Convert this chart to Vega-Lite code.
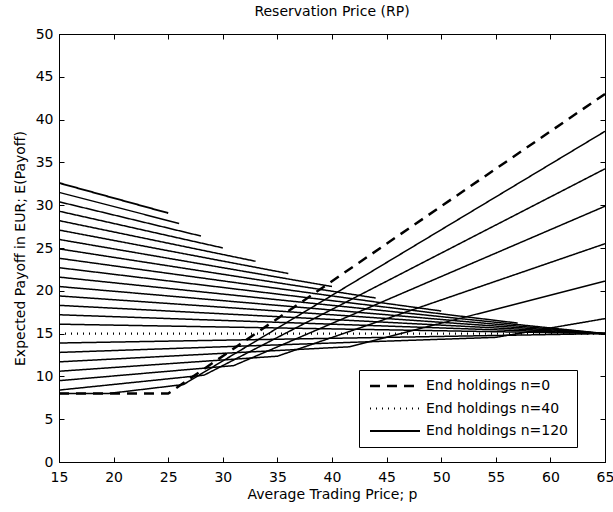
{
  "$schema": "https://vega.github.io/schema/vega-lite/v6.json",
  "width": 546,
  "height": 428,
  "autosize": {"type": "none"},
  "padding": {"left": 59, "top": 34, "right": 8, "bottom": 50},
  "background": "white",
  "config": {
    "view": {"stroke": "black", "strokeWidth": 1},
    "font": "DejaVu Sans",
    "axis": {
      "grid": false,
      "domainColor": "black",
      "tickColor": "black",
      "labelColor": "black",
      "titleColor": "black",
      "labelFont": "DejaVu Sans",
      "titleFont": "DejaVu Sans",
      "labelFontSize": 14,
      "titleFontSize": 14,
      "titleFontWeight": "normal",
      "tickSize": -5,
      "tickWidth": 1
    }
  },
  "title": {
    "text": "Reservation Price (RP)",
    "fontSize": 14,
    "fontWeight": "normal",
    "font": "DejaVu Sans",
    "color": "black",
    "offset": 8
  },
  "data": {
    "values": [
      {"n": 115, "p": 15, "E": 31.5, "s": "other"},
      {"n": 115, "p": 26, "E": 27.87, "s": "other"},
      {"n": 110, "p": 15, "E": 30.4, "s": "other"},
      {"n": 110, "p": 28, "E": 26.4, "s": "other"},
      {"n": 105, "p": 15, "E": 29.3, "s": "other"},
      {"n": 105, "p": 30, "E": 25.01, "s": "other"},
      {"n": 100, "p": 15, "E": 28.2, "s": "other"},
      {"n": 100, "p": 33, "E": 23.45, "s": "other"},
      {"n": 95, "p": 15, "E": 27.1, "s": "other"},
      {"n": 95, "p": 36, "E": 22.02, "s": "other"},
      {"n": 90, "p": 15, "E": 26.0, "s": "other"},
      {"n": 90, "p": 40, "E": 20.5, "s": "other"},
      {"n": 85, "p": 15, "E": 24.9, "s": "other"},
      {"n": 85, "p": 44, "E": 19.16, "s": "other"},
      {"n": 80, "p": 15, "E": 23.8, "s": "other"},
      {"n": 80, "p": 50, "E": 17.64, "s": "other"},
      {"n": 75, "p": 15, "E": 22.7, "s": "other"},
      {"n": 75, "p": 57, "E": 16.23, "s": "other"},
      {"n": 70, "p": 15, "E": 21.6, "s": "other"},
      {"n": 70, "p": 65, "E": 15, "s": "other"},
      {"n": 65, "p": 15, "E": 20.5, "s": "other"},
      {"n": 65, "p": 65, "E": 15, "s": "other"},
      {"n": 60, "p": 15, "E": 19.4, "s": "other"},
      {"n": 60, "p": 65, "E": 15, "s": "other"},
      {"n": 55, "p": 15, "E": 18.3, "s": "other"},
      {"n": 55, "p": 65, "E": 15, "s": "other"},
      {"n": 50, "p": 15, "E": 17.2, "s": "other"},
      {"n": 50, "p": 65, "E": 15, "s": "other"},
      {"n": 45, "p": 15, "E": 16.1, "s": "other"},
      {"n": 45, "p": 65, "E": 15, "s": "other"},
      {"n": 35, "p": 15, "E": 13.9, "s": "other"},
      {"n": 35, "p": 65, "E": 15, "s": "other"},
      {"n": 30, "p": 15, "E": 12.8, "s": "other"},
      {"n": 30, "p": 55, "E": 14.56, "s": "other"},
      {"n": 30, "p": 65, "E": 16.75, "s": "other"},
      {"n": 25, "p": 15, "E": 11.7, "s": "other"},
      {"n": 25, "p": 41.6, "E": 13.46, "s": "other"},
      {"n": 25, "p": 65, "E": 21.13, "s": "other"},
      {"n": 20, "p": 15, "E": 10.6, "s": "other"},
      {"n": 20, "p": 35, "E": 12.36, "s": "other"},
      {"n": 20, "p": 65, "E": 25.5, "s": "other"},
      {"n": 15, "p": 15, "E": 9.5, "s": "other"},
      {"n": 15, "p": 31, "E": 11.26, "s": "other"},
      {"n": 15, "p": 65, "E": 29.88, "s": "other"},
      {"n": 10, "p": 15, "E": 8.4, "s": "other"},
      {"n": 10, "p": 28.3, "E": 10.15, "s": "other"},
      {"n": 10, "p": 65, "E": 34.25, "s": "other"},
      {"n": 5, "p": 15, "E": 8, "s": "other"},
      {"n": 5, "p": 19.5, "E": 8, "s": "other"},
      {"n": 5, "p": 26.4, "E": 9.05, "s": "other"},
      {"n": 5, "p": 65, "E": 38.63, "s": "other"},
      {"n": 40, "p": 15, "E": 15, "s": "End holdings n=40"},
      {"n": 40, "p": 65, "E": 15, "s": "End holdings n=40"},
      {"n": 120, "p": 15, "E": 32.6, "s": "End holdings n=120"},
      {"n": 120, "p": 25, "E": 29.08, "s": "End holdings n=120"},
      {"n": 0, "p": 15, "E": 8, "s": "End holdings n=0"},
      {"n": 0, "p": 25, "E": 8, "s": "End holdings n=0"},
      {"n": 0, "p": 65, "E": 43, "s": "End holdings n=0"}
    ]
  },
  "layer": [
    {
      "mark": {"type": "line", "color": "black", "strokeCap": "butt", "clip": true},
      "encoding": {
        "x": {
          "field": "p", "type": "quantitative",
          "scale": {"domain": [15, 65], "nice": false, "zero": false},
          "axis": {
            "title": "Average Trading Price; p",
            "values": [15, 20, 25, 30, 35, 40, 45, 50, 55, 60, 65],
            "labelPadding": 13,
            "titlePadding": 3,
            "labelFlush": false
          }
        },
        "y": {
          "field": "E", "type": "quantitative",
          "scale": {"domain": [0, 50], "nice": false, "zero": false},
          "axis": {
            "title": "Expected Payoff in EUR; E(Payoff)",
            "values": [0, 5, 10, 15, 20, 25, 30, 35, 40, 45, 50],
            "labelPadding": 11,
            "titlePadding": 8
          }
        },
        "detail": {"field": "n", "type": "nominal"},
        "strokeDash": {
          "field": "s", "type": "nominal",
          "scale": {
            "domain": ["End holdings n=0", "End holdings n=40", "End holdings n=120", "other"],
            "range": [[10, 7], [1, 5], [1, 0], [1, 0]]
          },
          "legend": {
            "title": null,
            "orient": "none",
            "legendX": 300,
            "legendY": 336,
            "values": ["End holdings n=0", "End holdings n=40", "End holdings n=120"],
            "symbolType": "M-2,0H18",
            "symbolSize": 25,
            "symbolStrokeColor": "black",
            "strokeColor": "black",
            "fillColor": "white",
            "padding": 9,
            "rowPadding": 8.5,
            "labelFont": "DejaVu Sans",
            "labelFontSize": 14,
            "labelColor": "black",
            "labelOffset": 44
          }
        },
        "strokeWidth": {
          "field": "s", "type": "nominal",
          "scale": {
            "domain": ["End holdings n=0", "End holdings n=40", "End holdings n=120", "other"],
            "range": [2.5, 1.5, 3, 1]
          },
          "legend": {
            "title": null,
            "orient": "none",
            "legendX": 300,
            "legendY": 336,
            "values": ["End holdings n=0", "End holdings n=40", "End holdings n=120"],
            "symbolType": "M-2,0H18",
            "symbolSize": 25,
            "symbolStrokeColor": "black",
            "strokeColor": "black",
            "fillColor": "white",
            "padding": 9,
            "rowPadding": 8.5,
            "labelFont": "DejaVu Sans",
            "labelFontSize": 14,
            "labelColor": "black",
            "labelOffset": 44
          }
        }
      }
    },
    {
      "mark": {"type": "line", "opacity": 0},
      "encoding": {
        "x": {
          "field": "p", "type": "quantitative",
          "axis": {"orient": "top", "labels": false, "title": null, "domain": false,
                   "values": [15, 20, 25, 30, 35, 40, 45, 50, 55, 60, 65]}
        },
        "y": {
          "field": "E", "type": "quantitative",
          "axis": {"orient": "right", "labels": false, "title": null, "domain": false,
                   "values": [0, 5, 10, 15, 20, 25, 30, 35, 40, 45, 50]}
        },
        "detail": {"field": "n", "type": "nominal"}
      }
    }
  ],
  "resolve": {"axis": {"x": "independent", "y": "independent"}}
}
